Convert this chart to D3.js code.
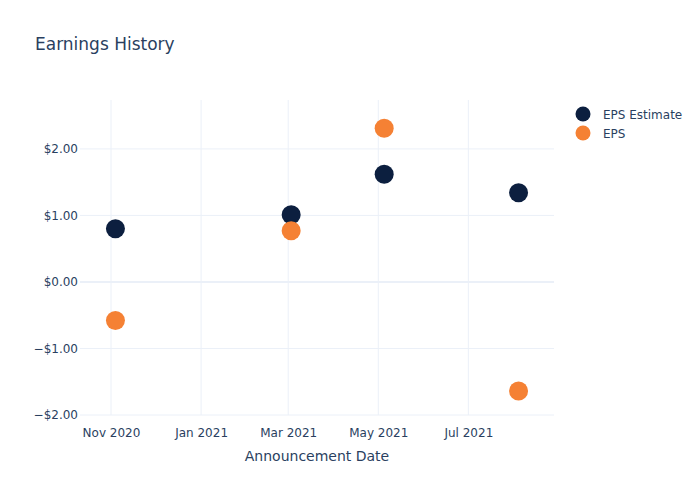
<!DOCTYPE html>
<html>
<head>
<meta charset="utf-8">
<script src="https://cdn.jsdelivr.net/npm/d3@7"></script>
<style>
  body { margin: 0; background: #fff; }
  svg text { font-family: "DejaVu Sans", sans-serif; fill: #2a3f5f; }
</style>
</head>
<body>
<div id="chart"></div>
<script>
// data
const dates = ["2020-11-04", "2021-03-03", "2021-05-05", "2021-08-04"];
const epsEstimate = [0.80, 1.01, 1.62, 1.34];
const eps = [-0.58, 0.77, 2.31, -1.64];
const seriesNames = ["EPS Estimate", "EPS"];
const seriesColors = ["#0c1f3f", "#f58134"];
const yTicks = [-2, -1, 0, 1, 2];

(function () {
  const width = 700, height = 500;
  const margin = { top: 100, right: 146, bottom: 85, left: 80 };
  const parse = d3.timeParse("%Y-%m-%d");

  const svg = d3.select("#chart").append("svg")
    .attr("width", width)
    .attr("height", height);

  const x = d3.scaleTime()
    .domain([parse("2020-10-11"), parse("2021-08-28")])
    .range([margin.left, width - margin.right]);

  const y = d3.scaleLinear()
    .domain([-2.0, 2.735])
    .range([height - margin.bottom, margin.top]);

  const grid = svg.append("g");

  // vertical grid
  const xTicks = x.ticks(d3.timeMonth.every(2));
  grid.selectAll(".vgrid")
    .data(xTicks)
    .enter().append("line")
    .attr("x1", d => x(d)).attr("x2", d => x(d))
    .attr("y1", margin.top).attr("y2", height - margin.bottom)
    .attr("stroke", "#ebf0f8")
    .attr("stroke-width", 1);

  // horizontal grid
  grid.selectAll(".hgrid")
    .data(yTicks)
    .enter().append("line")
    .attr("x1", margin.left).attr("x2", width - margin.right)
    .attr("y1", d => y(d)).attr("y2", d => y(d))
    .attr("stroke", "#ebf0f8")
    .attr("stroke-width", d => d === 0 ? 2 : 1);

  // axes
  const xAxis = svg.append("g")
    .attr("transform", `translate(0,${height - margin.bottom})`)
    .call(d3.axisBottom(x).tickValues(xTicks).tickFormat(d3.timeFormat("%b %Y")).tickSize(0).tickPadding(13));
  xAxis.select(".domain").remove();
  xAxis.selectAll("text").attr("font-size", 12).style("font-family", "DejaVu Sans, sans-serif").attr("fill", "#2a3f5f");

  const yAxis = svg.append("g")
    .attr("transform", `translate(${margin.left},0)`)
    .call(d3.axisLeft(y).tickValues(yTicks).tickFormat(d3.format("$.2f")).tickSize(0).tickPadding(2));
  yAxis.select(".domain").remove();
  yAxis.selectAll("text").attr("font-size", 12).style("font-family", "DejaVu Sans, sans-serif").attr("fill", "#2a3f5f");

  // axis title
  svg.append("text")
    .attr("x", (margin.left + width - margin.right) / 2)
    .attr("y", 461)
    .attr("text-anchor", "middle")
    .attr("font-size", 14)
    .text("Announcement Date");

  // title
  svg.append("text")
    .attr("x", 35)
    .attr("y", 50)
    .attr("font-size", 17)
    .text("Earnings History");

  // points
  const series = [epsEstimate, eps];
  series.forEach((vals, s) => {
    svg.append("g").selectAll("circle")
      .data(vals)
      .enter().append("circle")
      .attr("cx", (d, i) => x(parse(dates[i])))
      .attr("cy", d => y(d))
      .attr("r", 9.5)
      .attr("fill", seriesColors[s]);
  });

  // legend
  const legend = svg.append("g").attr("transform", "translate(583,114)");
  seriesNames.forEach((name, i) => {
    legend.append("circle")
      .attr("cx", 0).attr("cy", i * 19)
      .attr("r", 7.5)
      .attr("fill", seriesColors[i]);
    legend.append("text")
      .attr("x", 20).attr("y", i * 19 + 4.5)
      .attr("font-size", 12)
      .text(name);
  });
})();
</script>
</body>
</html>
